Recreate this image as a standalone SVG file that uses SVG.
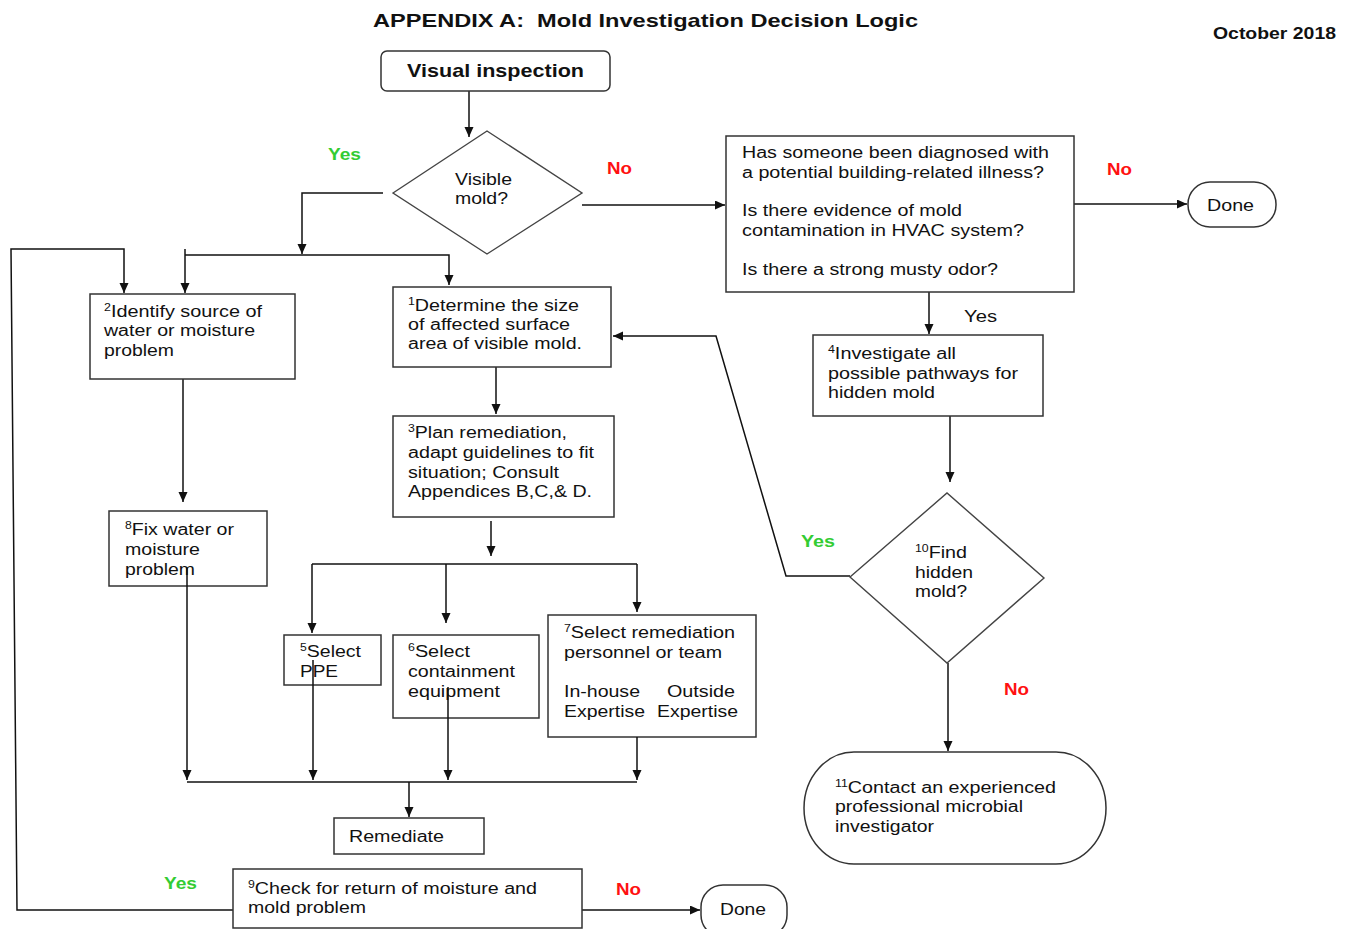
<svg xmlns="http://www.w3.org/2000/svg" width="1353" height="929" viewBox="0 0 1353 929">
<style>
text{font-family:"Liberation Sans",Arial,sans-serif;fill:#111;}
.t{font-size:16px;}
.b{font-weight:bold;}
.box{fill:#fff;stroke:#333;stroke-width:1.5;}
.dia{fill:#fff;stroke:#444;stroke-width:1.4;}
.c{fill:none;stroke:#111;stroke-width:1.5;}
.yes{fill:#33cc33;font-weight:bold;font-size:16px;}
.no{fill:#ff1111;font-weight:bold;font-size:16px;}
.sup{font-size:10px;}
</style>
<defs>
<marker id="ah" markerUnits="userSpaceOnUse" markerWidth="10" markerHeight="10" refX="10" refY="4.5" orient="auto">
<path d="M0,0 L10,4.5 L0,9 z" fill="#111"/>
</marker>
</defs>
<rect width="1353" height="929" fill="#fff"/>
<g id="title">
<text x="373" y="27" class="b" font-size="19" textLength="545" lengthAdjust="spacingAndGlyphs" xml:space="preserve">APPENDIX A:  Mold Investigation Decision Logic</text>
<text x="1213" y="39" class="b" font-size="16" textLength="123" lengthAdjust="spacingAndGlyphs">October 2018</text>
</g>
<g id="connectors">
<path class="c" d="M469,91 V137" marker-end="url(#ah)"/>
<path class="c" d="M383,193 H302 V254" marker-end="url(#ah)"/>
<path class="c" d="M185,249 V293" marker-end="url(#ah)"/>
<path class="c" d="M185,255 H449 V285" marker-end="url(#ah)"/>
<path class="c" d="M233,910 H17 L11,249 H124 V293" marker-end="url(#ah)"/>
<path class="c" d="M582,205 H725" marker-end="url(#ah)"/>
<path class="c" d="M1074,204 H1187" marker-end="url(#ah)"/>
<path class="c" d="M929,287 V334" marker-end="url(#ah)"/>
<path class="c" d="M950,416 V482" marker-end="url(#ah)"/>
<path class="c" d="M948,663 V751" marker-end="url(#ah)"/>
<path class="c" d="M850,576 H786 L716,336 H613" marker-end="url(#ah)"/>
<path class="c" d="M496,367 V414" marker-end="url(#ah)"/>
<path class="c" d="M183,379 V502" marker-end="url(#ah)"/>
<path class="c" d="M491,521 V556" marker-end="url(#ah)"/>
<path class="c" d="M312,564 H637"/>
<path class="c" d="M312,564 V633" marker-end="url(#ah)"/>
<path class="c" d="M446,564 V623" marker-end="url(#ah)"/>
<path class="c" d="M637,564 V612" marker-end="url(#ah)"/>
<path class="c" d="M187,782 H637"/>
<path class="c" d="M409,782 V817" marker-end="url(#ah)"/>
<path class="c" d="M582,910 H700" marker-end="url(#ah)"/>
</g>
<g id="visual-inspection">
<rect class="box" x="381" y="51" width="229" height="40" rx="6"/>
<text x="407" y="77" class="b" font-size="19" textLength="177" lengthAdjust="spacingAndGlyphs">Visual inspection</text>
</g>
<g id="visible-mold">
<polygon class="dia" points="393,193 487,131 582,193 487,254"/>
<text class="t" x="455" y="185" textLength="57" lengthAdjust="spacingAndGlyphs">Visible</text>
<text class="t" x="455" y="204" textLength="53" lengthAdjust="spacingAndGlyphs">mold?</text>
</g>
<g id="labels">
<text class="yes" x="328" y="160" textLength="33" lengthAdjust="spacingAndGlyphs">Yes</text>
<text class="no" x="607" y="174" textLength="25" lengthAdjust="spacingAndGlyphs">No</text>
<text class="no" x="1107" y="175" textLength="25" lengthAdjust="spacingAndGlyphs">No</text>
<text class="t" x="964" y="322" textLength="33" lengthAdjust="spacingAndGlyphs">Yes</text>
<text class="yes" x="801" y="547" textLength="34" lengthAdjust="spacingAndGlyphs">Yes</text>
<text class="no" x="1004" y="695" textLength="25" lengthAdjust="spacingAndGlyphs">No</text>
<text class="yes" x="164" y="889" textLength="33" lengthAdjust="spacingAndGlyphs">Yes</text>
<text class="no" x="616" y="895" textLength="25" lengthAdjust="spacingAndGlyphs">No</text>
</g>
<g id="questions">
<rect class="box" x="726" y="136" width="348" height="156"/>
<text class="t" x="742" y="158" textLength="307" lengthAdjust="spacingAndGlyphs">Has someone been diagnosed with</text>
<text class="t" x="742" y="178" textLength="302" lengthAdjust="spacingAndGlyphs">a potential building-related illness?</text>
<text class="t" x="742" y="216" textLength="220" lengthAdjust="spacingAndGlyphs">Is there evidence of mold</text>
<text class="t" x="742" y="236" textLength="282" lengthAdjust="spacingAndGlyphs">contamination in HVAC system?</text>
<text class="t" x="742" y="275" textLength="256" lengthAdjust="spacingAndGlyphs">Is there a strong musty odor?</text>
</g>
<g id="done-top">
<rect class="box" x="1188" y="182" width="88" height="45" rx="22"/>
<text class="t" x="1207" y="211" textLength="47" lengthAdjust="spacingAndGlyphs">Done</text>
</g>
<g id="step2">
<rect class="box" x="90" y="294" width="205" height="85"/>
<text class="t" x="104" y="317" textLength="158" lengthAdjust="spacingAndGlyphs"><tspan class="sup" dy="-6">2</tspan><tspan dy="6">Identify source of</tspan></text>
<text class="t" x="104" y="336" textLength="151" lengthAdjust="spacingAndGlyphs">water or moisture</text>
<text class="t" x="104" y="356" textLength="70" lengthAdjust="spacingAndGlyphs">problem</text>
</g>
<g id="step1">
<rect class="box" x="393" y="287" width="218" height="80"/>
<text class="t" x="408" y="311" textLength="171" lengthAdjust="spacingAndGlyphs"><tspan class="sup" dy="-6">1</tspan><tspan dy="6">Determine the size</tspan></text>
<text class="t" x="408" y="330" textLength="162" lengthAdjust="spacingAndGlyphs">of affected surface</text>
<text class="t" x="408" y="349" textLength="174" lengthAdjust="spacingAndGlyphs">area of visible mold.</text>
</g>
<g id="step4">
<rect class="box" x="813" y="335" width="230" height="81"/>
<text class="t" x="828" y="359" textLength="128" lengthAdjust="spacingAndGlyphs"><tspan class="sup" dy="-6">4</tspan><tspan dy="6">Investigate all</tspan></text>
<text class="t" x="828" y="379" textLength="190" lengthAdjust="spacingAndGlyphs">possible pathways for</text>
<text class="t" x="828" y="398" textLength="107" lengthAdjust="spacingAndGlyphs">hidden mold</text>
</g>
<g id="step3">
<rect class="box" x="393" y="416" width="221" height="101"/>
<text class="t" x="408" y="438" textLength="159" lengthAdjust="spacingAndGlyphs"><tspan class="sup" dy="-6">3</tspan><tspan dy="6">Plan remediation,</tspan></text>
<text class="t" x="408" y="458" textLength="186" lengthAdjust="spacingAndGlyphs">adapt guidelines to fit</text>
<text class="t" x="408" y="478" textLength="151" lengthAdjust="spacingAndGlyphs">situation; Consult</text>
<text class="t" x="408" y="497" textLength="184" lengthAdjust="spacingAndGlyphs">Appendices B,C,&amp; D.</text>
</g>
<g id="step8">
<rect class="box" x="109" y="511" width="158" height="75"/>
<text class="t" x="125" y="535" textLength="109" lengthAdjust="spacingAndGlyphs"><tspan class="sup" dy="-6">8</tspan><tspan dy="6">Fix water or</tspan></text>
<text class="t" x="125" y="555" textLength="75" lengthAdjust="spacingAndGlyphs">moisture</text>
<text class="t" x="125" y="575" textLength="70" lengthAdjust="spacingAndGlyphs">problem</text>
</g>
<g id="find-hidden">
<polygon class="dia" points="850,577 947,493 1044,578 947,663"/>
<text class="t" x="915" y="558" textLength="52" lengthAdjust="spacingAndGlyphs"><tspan class="sup" dy="-6">10</tspan><tspan dy="6">Find</tspan></text>
<text class="t" x="915" y="578" textLength="58" lengthAdjust="spacingAndGlyphs">hidden</text>
<text class="t" x="915" y="597" textLength="52" lengthAdjust="spacingAndGlyphs">mold?</text>
</g>
<g id="step5">
<rect class="box" x="284" y="635" width="97" height="50"/>
<text class="t" x="300" y="657" textLength="61" lengthAdjust="spacingAndGlyphs"><tspan class="sup" dy="-6">5</tspan><tspan dy="6">Select</tspan></text>
<text class="t" x="300" y="677" textLength="38" lengthAdjust="spacingAndGlyphs">PPE</text>
</g>
<g id="step6">
<rect class="box" x="393" y="635" width="146" height="83"/>
<text class="t" x="408" y="657" textLength="62" lengthAdjust="spacingAndGlyphs"><tspan class="sup" dy="-6">6</tspan><tspan dy="6">Select</tspan></text>
<text class="t" x="408" y="677" textLength="107" lengthAdjust="spacingAndGlyphs">containment</text>
<text class="t" x="408" y="697" textLength="92" lengthAdjust="spacingAndGlyphs">equipment</text>
</g>
<g id="step7">
<rect class="box" x="548" y="615" width="208" height="122"/>
<text class="t" x="564" y="638" textLength="171" lengthAdjust="spacingAndGlyphs"><tspan class="sup" dy="-6">7</tspan><tspan dy="6">Select remediation</tspan></text>
<text class="t" x="564" y="658" textLength="158" lengthAdjust="spacingAndGlyphs">personnel or team</text>
<text class="t" x="564" y="697" textLength="76" lengthAdjust="spacingAndGlyphs">In-house</text>
<text class="t" x="667" y="697" textLength="68" lengthAdjust="spacingAndGlyphs">Outside</text>
<text class="t" x="564" y="717" textLength="81" lengthAdjust="spacingAndGlyphs">Expertise</text>
<text class="t" x="657" y="717" textLength="81" lengthAdjust="spacingAndGlyphs">Expertise</text>
</g>
<g id="box-lines">
<path class="c" d="M187,568 V780" marker-end="url(#ah)"/>
<path class="c" d="M313,660 V780" marker-end="url(#ah)"/>
<path class="c" d="M448,687 V780" marker-end="url(#ah)"/>
<path class="c" d="M637,737 V780" marker-end="url(#ah)"/>
</g>
<g id="step11">
<rect class="box" x="804" y="752" width="302" height="112" rx="50" ry="56"/>
<text class="t" x="835" y="793" textLength="221" lengthAdjust="spacingAndGlyphs"><tspan class="sup" dy="-6">11</tspan><tspan dy="6">Contact an experienced</tspan></text>
<text class="t" x="835" y="812" textLength="188" lengthAdjust="spacingAndGlyphs">professional microbial</text>
<text class="t" x="835" y="832" textLength="99" lengthAdjust="spacingAndGlyphs">investigator</text>
</g>
<g id="remediate">
<rect class="box" x="334" y="818" width="150" height="36"/>
<text class="t" x="349" y="842" textLength="95" lengthAdjust="spacingAndGlyphs">Remediate</text>
</g>
<g id="step9">
<rect class="box" x="233" y="869" width="349" height="59"/>
<text class="t" x="248" y="894" textLength="289" lengthAdjust="spacingAndGlyphs"><tspan class="sup" dy="-6">9</tspan><tspan dy="6">Check for return of moisture and</tspan></text>
<text class="t" x="248" y="913" textLength="118" lengthAdjust="spacingAndGlyphs">mold problem</text>
</g>
<g id="done-bottom">
<rect class="box" x="701" y="885" width="86" height="52" rx="22"/>
<text class="t" x="720" y="915" textLength="46" lengthAdjust="spacingAndGlyphs">Done</text>
</g>
</svg>
